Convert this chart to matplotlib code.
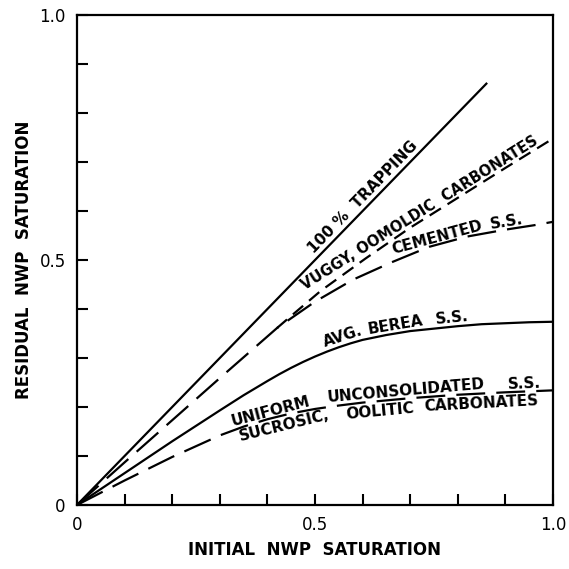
import numpy as np
import matplotlib
matplotlib.use("Agg")
import matplotlib.pyplot as plt

# curves (initial vs residual NWP saturation)
trap_x = [0.0, 0.86]
trap_y = [0.0, 0.86]

cem_x = [0.0, 0.1, 0.2, 0.3, 0.42, 0.5, 0.58, 0.66, 0.74, 0.82, 0.9, 0.96, 1.0]
cem_y = [0.0, 0.087, 0.173, 0.259, 0.361, 0.415, 0.46, 0.495, 0.527, 0.548, 0.562, 0.571, 0.578]

vug_x = [0.42, 0.45, 0.512, 0.606, 0.7, 0.8, 0.9, 1.0]
vug_y = [0.361, 0.386, 0.437, 0.503, 0.566, 0.627, 0.688, 0.748]

berea_x = [0.0, 0.1, 0.2, 0.3, 0.35, 0.4, 0.425, 0.45, 0.475, 0.5, 0.525, 0.55, 0.575, 0.6,
           0.65, 0.7, 0.75, 0.8, 0.85, 0.9, 0.95, 1.0]
berea_y = [0.0, 0.065, 0.13, 0.193, 0.224, 0.253, 0.267, 0.28, 0.292, 0.303, 0.313, 0.322, 0.33, 0.337,
           0.347, 0.355, 0.36, 0.365, 0.369, 0.371, 0.373, 0.374]

unif_x = [0.0, 0.1, 0.2, 0.25, 0.3, 0.35, 0.4, 0.45, 0.5, 0.55, 0.6, 0.7, 0.8, 0.9, 1.0]
unif_y = [0.0, 0.05, 0.098, 0.12, 0.142, 0.16, 0.175, 0.187, 0.196, 0.203, 0.209, 0.218, 0.225, 0.23, 0.234]

ticks = np.round(np.arange(0, 1.01, 0.1), 1)
tick_labels = {0.0: "0", 0.5: "0.5", 1.0: "1.0"}

fig = plt.figure(figsize=(5.69, 5.69), dpi=100)
ax = fig.add_axes([0.1353, 0.1125, 0.8366, 0.861])

lw = 1.6
long_dash = (0, (13, 5))
ax.plot(trap_x, trap_y, color="black", lw=lw)
ax.plot(cem_x, cem_y, color="black", lw=lw, linestyle=long_dash)
ax.plot(vug_x, vug_y, color="black", lw=lw, linestyle=(0, (6, 3.5)))
ax.plot(berea_x, berea_y, color="black", lw=lw)
ax.plot(unif_x, unif_y, color="black", lw=lw, linestyle=long_dash)

ax.set_xlim(0, 1.0)
ax.set_ylim(0, 1.0)
ax.set_xticks(ticks)
ax.set_yticks(ticks)
ax.set_xticklabels([tick_labels.get(t, "") for t in ticks])
ax.set_yticklabels([tick_labels.get(t, "") for t in ticks])
ax.tick_params(direction="in", length=8, width=1.5, labelsize=12, pad=8)
for s in ax.spines.values():
    s.set_linewidth(1.6)

ax.set_xlabel("INITIAL  NWP  SATURATION", fontsize=12, fontweight="bold", labelpad=5)
ax.set_ylabel("RESIDUAL  NWP  SATURATION", fontsize=12, fontweight="bold", labelpad=5)


def along(xs, ys, xc, text, off, va="baseline", fs=11):
    # put a word on the curve, turned to the local slope
    yc = np.interp(xc, xs, ys)
    p1 = ax.transData.transform((xc - 0.02, np.interp(xc - 0.02, xs, ys)))
    p2 = ax.transData.transform((xc + 0.02, np.interp(xc + 0.02, xs, ys)))
    ang = np.arctan2(p2[1] - p1[1], p2[0] - p1[0])
    ax.annotate(text, (xc, yc), xytext=(-off * np.sin(ang), off * np.cos(ang)),
                textcoords="offset points", rotation=np.degrees(ang),
                rotation_mode="anchor", ha="center", va=va,
                fontsize=fs, fontweight="bold")


along(trap_x, trap_y, 0.615, "100 %  TRAPPING", 4)
along(vug_x, vug_y, 0.728, "VUGGY, OOMOLDIC  CARBONATES", 2, fs=10.5)
along(cem_x, cem_y, 0.76, "CEMENTED", 2)
along(cem_x, cem_y, 0.905, "S.S.", 2)
along(berea_x, berea_y, 0.565, "AVG.", 3)
along(berea_x, berea_y, 0.672, "BEREA", 3)
along(berea_x, berea_y, 0.79, "S.S.", 3)
along(unif_x, unif_y, 0.41, "UNIFORM", 2)
along(unif_x, unif_y, 0.693, "UNCONSOLIDATED", 2)
along(unif_x, unif_y, 0.94, "S.S.", 2)
along(unif_x, unif_y, 0.43, "SUCROSIC,", -2, va="top")
along(unif_x, unif_y, 0.634, "OOLITIC", -2, va="top")
along(unif_x, unif_y, 0.848, "CARBONATES", -2, va="top")

fig.savefig("out.png", dpi=100)
